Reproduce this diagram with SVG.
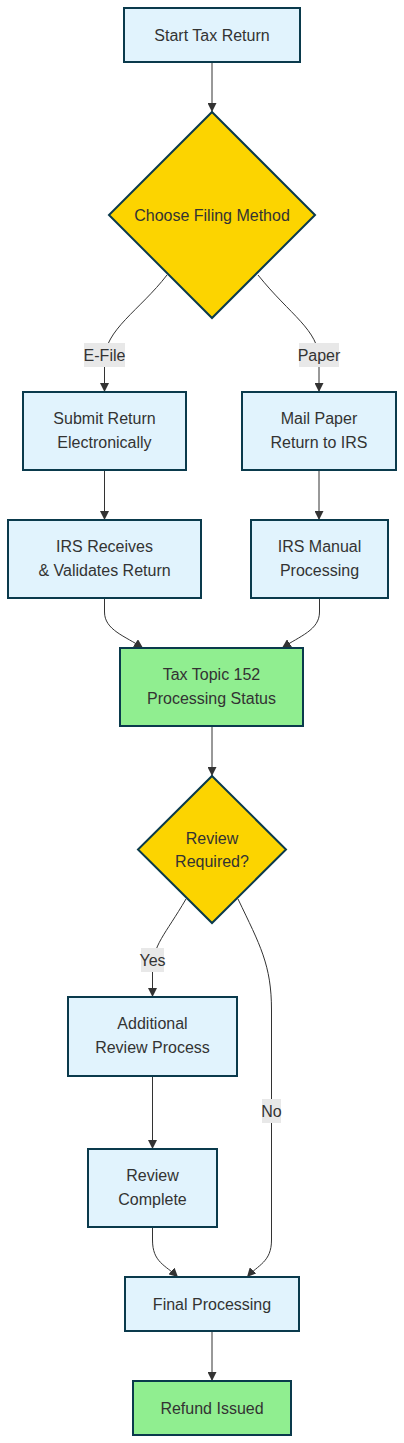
<svg xmlns="http://www.w3.org/2000/svg" width="404" height="1443" viewBox="0 0 404 1443">
<style>
.box{fill:#e1f3fd;stroke:#0a3a4c;stroke-width:2}
.green{fill:#90ee90;stroke:#0a3a4c;stroke-width:2}
.dia{fill:#fcd400;stroke:#0a3a4c;stroke-width:2}
.t{font-family:"Liberation Sans",Arial,sans-serif;font-size:16px;fill:#333;text-anchor:middle}
.e{fill:none;stroke:#333;stroke-width:1}
.lb{fill:#e8e8e8}
</style>
<defs>
<marker id="arr" viewBox="0 0 10 10" refX="10" refY="5" markerUnits="userSpaceOnUse" markerWidth="9" markerHeight="9" orient="auto">
<path d="M0,0 L10,5 L0,10 z" fill="#333"/>
</marker>
</defs>
<rect width="404" height="1443" fill="#fff"/>
<g id="edges">
<path class="e" d="M212,62 L212,112" marker-end="url(#arr)"/>
<path class="e" d="M167,275 C140,310 104.5,330 104.5,360 L104.5,392" marker-end="url(#arr)"/>
<path class="e" d="M258,275 C290,315 319,330 319,360 L319,392" marker-end="url(#arr)"/>
<path class="e" d="M104.5,470 L104.5,520" marker-end="url(#arr)"/>
<path class="e" d="M319,470 L319,520" marker-end="url(#arr)"/>
<path class="e" d="M104.5,598 L104.5,612 C104.5,630 125,636 143,648" marker-end="url(#arr)"/>
<path class="e" d="M319.5,598 L319.5,612 C319.5,630 300,636 282,648" marker-end="url(#arr)"/>
<path class="e" d="M212,726 L212,776" marker-end="url(#arr)"/>
<path class="e" d="M186,899 C165,935 152.5,945 152.5,970 L152.5,997" marker-end="url(#arr)"/>
<path class="e" d="M238,899 C260,945 271.5,965 271.5,1010 L271.5,1240 C271.5,1262 258,1265 247,1277" marker-end="url(#arr)"/>
<path class="e" d="M152.5,1076 L152.5,1149" marker-end="url(#arr)"/>
<path class="e" d="M152.5,1227 L152.5,1240 C152.5,1262 165,1265 178,1277" marker-end="url(#arr)"/>
<path class="e" d="M212,1331 L212,1381" marker-end="url(#arr)"/>
<rect class="lb" x="84" y="343" width="41" height="24"/>
<text class="t" x="104.5" y="360.5">E-File</text>
<rect class="lb" x="299" y="343" width="40" height="24"/>
<text class="t" x="319" y="360.5">Paper</text>
<rect class="lb" x="141" y="948" width="23" height="24"/>
<text class="t" x="152.5" y="965.5">Yes</text>
<rect class="lb" x="262" y="1099" width="19" height="24"/>
<text class="t" x="271.5" y="1116.5">No</text>
</g>
<g id="start"><rect class="box" x="124" y="8" width="176" height="54"/><text class="t" x="212" y="40.5">Start Tax Return</text></g>
<g id="choose"><polygon class="dia" points="212,112 315,215 212,318 109,215"/><text class="t" x="212" y="220.5">Choose Filing Method</text></g>
<g id="submit"><rect class="box" x="23" y="392" width="163" height="78"/><text class="t" x="104.5" y="423.5">Submit Return</text><text class="t" x="104.5" y="447.5">Electronically</text></g>
<g id="mail"><rect class="box" x="242" y="392" width="154" height="78"/><text class="t" x="319" y="423.5">Mail Paper</text><text class="t" x="319" y="447.5">Return to IRS</text></g>
<g id="receives"><rect class="box" x="8" y="520" width="193" height="78"/><text class="t" x="104.5" y="551.5">IRS Receives</text><text class="t" x="104.5" y="575.5">&amp; Validates Return</text></g>
<g id="manual"><rect class="box" x="251" y="520" width="137" height="78"/><text class="t" x="319.5" y="551.5">IRS Manual</text><text class="t" x="319.5" y="575.5">Processing</text></g>
<g id="topic"><rect class="green" x="120" y="648" width="183" height="78"/><text class="t" x="211.5" y="679.5">Tax Topic 152</text><text class="t" x="211.5" y="703.5">Processing Status</text></g>
<g id="review"><polygon class="dia" points="212,776 286,849.5 212,923 138,849.5"/><text class="t" x="212" y="843.5">Review</text><text class="t" x="212" y="866.5">Required?</text></g>
<g id="additional"><rect class="box" x="68" y="997" width="169" height="79"/><text class="t" x="152.5" y="1029">Additional</text><text class="t" x="152.5" y="1053">Review Process</text></g>
<g id="complete"><rect class="box" x="88" y="1149" width="129" height="78"/><text class="t" x="152.5" y="1180.5">Review</text><text class="t" x="152.5" y="1204.5">Complete</text></g>
<g id="final"><rect class="box" x="125" y="1277" width="174" height="54"/><text class="t" x="212" y="1309.5">Final Processing</text></g>
<g id="refund"><rect class="green" x="133" y="1381" width="158" height="54"/><text class="t" x="212" y="1413.5">Refund Issued</text></g>
</svg>
